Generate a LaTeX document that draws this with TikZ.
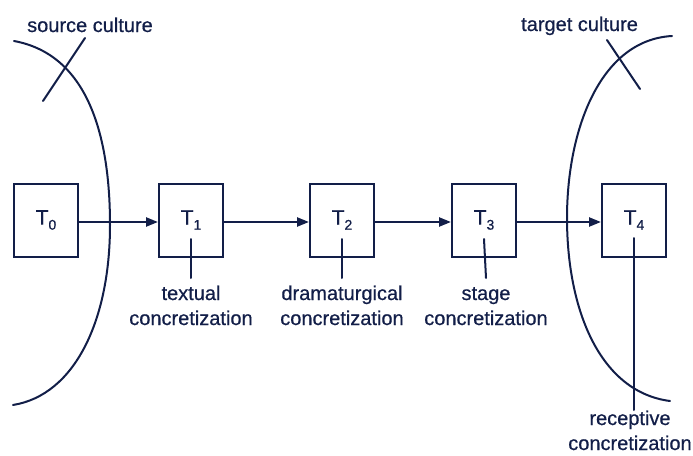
\documentclass[tikz,border=0pt]{standalone}
\usepackage{fontspec}
\setmainfont{Liberation Sans}[FakeBold=0.6,BoldFont=Liberation Sans]
\usetikzlibrary{arrows.meta}
\definecolor{inkc}{RGB}{18,30,72}
\newcommand{\tsub}[1]{T\raisebox{-0.45ex}{\fontsize{14}{14}\selectfont #1}}
\begin{document}
\begin{tikzpicture}[x=1pt,y=-1pt,
  ink/.style={draw=inkc, line width=2pt, line cap=round},
  tbox/.style={draw=inkc, line width=2pt, minimum width=64pt, minimum height=73pt, inner sep=0pt, text=inkc, font=\fontsize{21}{24}\selectfont\bfseries},
  lbl/.style={text=inkc, font=\fontsize{20}{25}\selectfont\bfseries, align=center, inner sep=0pt},
  flow/.style={draw=inkc, line width=2.3pt, -{Triangle[length=12pt,width=9pt]}},
]
\useasboundingbox (0,0) rectangle (693,455);

% cultures
\node[lbl, anchor=base west] (src) at (27,32) {source culture};
\node[lbl, anchor=base west] (tgt) at (521,31) {target culture};
\draw[ink] (14,41) .. controls (90,55) and (110,140) .. (110,225)
                   .. controls (110,320) and (75,395) .. (13,405);
\draw[ink] (43,101) -- (85,38);
\draw[ink] (672,36) .. controls (600,40) and (567,130) .. (567,218)
                    .. controls (567,310) and (600,392) .. (670,401);
\draw[ink] (607,40) -- (640,89);

% boxes
\node[tbox] (t0) at (46,220) {\tsub{0}};
\node[tbox] (t1) at (191,220) {\tsub{1}};
\node[tbox] (t2) at (342,220) {\tsub{2}};
\node[tbox] (t3) at (484,220) {\tsub{3}};
\node[tbox] (t4) at (634,220) {\tsub{4}};

\draw[flow] ([yshift=-2pt]t0.east) -- ([yshift=-2pt]t1.west);
\draw[flow] ([yshift=-2pt]t1.east) -- ([yshift=-2pt]t2.west);
\draw[flow] ([yshift=-2pt]t2.east) -- ([yshift=-2pt]t3.west);
\draw[flow] ([yshift=-2pt]t3.east) -- ([yshift=-2pt]t4.west);

% labels
\node[lbl, anchor=base] (l1) at (191,325) {textual\\concretization};
\node[lbl, anchor=base] (l2) at (342,325) {dramaturgical\\concretization};
\node[lbl, anchor=base] (l3) at (486,325) {stage\\concretization};
\node[lbl, anchor=base] (l4) at (630,450) {receptive\\concretization};

\coordinate (e1) at (191,278);
\coordinate (e2) at (342,278);
\coordinate (e3) at (486,278);
\coordinate (e4) at (634,410);
\draw[ink] ([yshift=-19pt]t1.center) -- (e1);
\draw[ink] ([yshift=-19pt]t2.center) -- (e2);
\draw[ink] ([yshift=-19pt]t3.center) -- (e3);
\draw[ink] ([yshift=-18pt]t4.center) -- (e4);
\end{tikzpicture}
\end{document}
